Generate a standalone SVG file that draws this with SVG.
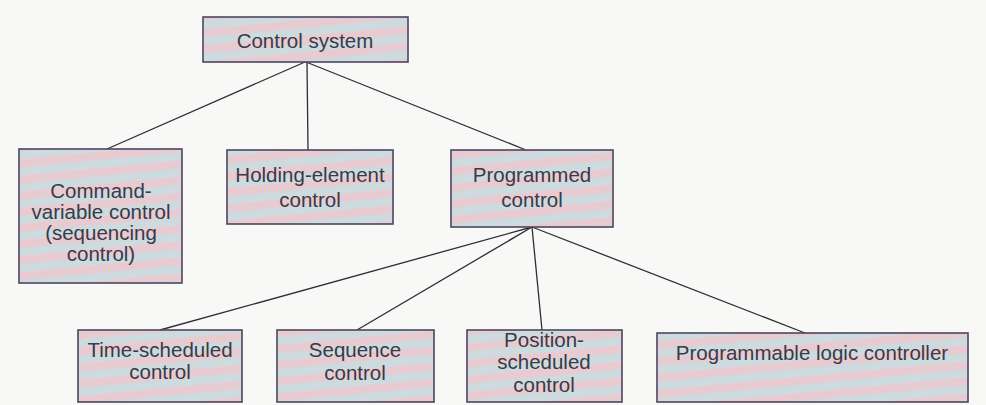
<svg xmlns="http://www.w3.org/2000/svg" width="986" height="405" viewBox="0 0 986 405">
<defs>
<linearGradient id="stripes" gradientUnits="userSpaceOnUse" x1="0" y1="0" x2="1.5" y2="16" spreadMethod="repeat">
<stop offset="0" stop-color="#e9cad0"/>
<stop offset="0.4" stop-color="#e6ccd2"/>
<stop offset="0.6" stop-color="#cadcdf"/>
<stop offset="1" stop-color="#d2d9dd"/>
</linearGradient>
<style>
.box{fill:url(#stripes);stroke:#4c4660;stroke-width:1.6}
.t{font-family:"Liberation Sans",Arial,sans-serif;font-size:20.5px;fill:#3a3a48;text-anchor:middle}
.c{stroke:#2e2e36;stroke-width:1.3;fill:none}
</style>
</defs>
<rect width="986" height="405" fill="#f8f8f7"/>
<g id="connectors">
<line class="c" x1="305" y1="62" x2="107" y2="149"/>
<line class="c" x1="307" y1="62" x2="308" y2="150"/>
<line class="c" x1="306" y1="62" x2="526" y2="150"/>
<line class="c" x1="532" y1="227" x2="160" y2="330"/>
<line class="c" x1="532" y1="227" x2="357" y2="330"/>
<line class="c" x1="532" y1="227" x2="542" y2="330"/>
<line class="c" x1="532" y1="227" x2="805" y2="333"/>
</g>
<g id="control-system">
<rect class="box" x="203" y="17" width="205" height="45"/>
<text class="t" x="305" y="48">Control system</text>
</g>
<g id="command-variable">
<rect class="box" x="19" y="149" width="163" height="134"/>
<text class="t" x="101" y="198">Command-</text>
<text class="t" x="101" y="219">variable control</text>
<text class="t" x="101" y="240">(sequencing</text>
<text class="t" x="101" y="261">control)</text>
</g>
<g id="holding-element">
<rect class="box" x="227" y="150" width="166" height="74"/>
<text class="t" x="310" y="182">Holding-element</text>
<text class="t" x="310" y="207">control</text>
</g>
<g id="programmed">
<rect class="box" x="451" y="150" width="162" height="77"/>
<text class="t" x="532" y="182">Programmed</text>
<text class="t" x="532" y="207">control</text>
</g>
<g id="time-scheduled">
<rect class="box" x="78" y="330" width="164" height="72"/>
<text class="t" x="160" y="357">Time-scheduled</text>
<text class="t" x="160" y="379">control</text>
</g>
<g id="sequence">
<rect class="box" x="277" y="330" width="157" height="72"/>
<text class="t" x="355" y="357">Sequence</text>
<text class="t" x="355" y="380">control</text>
</g>
<g id="position-scheduled">
<rect class="box" x="467" y="330" width="155" height="72"/>
<text class="t" x="544" y="347">Position-</text>
<text class="t" x="544" y="369">scheduled</text>
<text class="t" x="544" y="392">control</text>
</g>
<g id="plc">
<rect class="box" x="657" y="333" width="311" height="69"/>
<text class="t" x="812" y="360">Programmable logic controller</text>
</g>
</svg>
